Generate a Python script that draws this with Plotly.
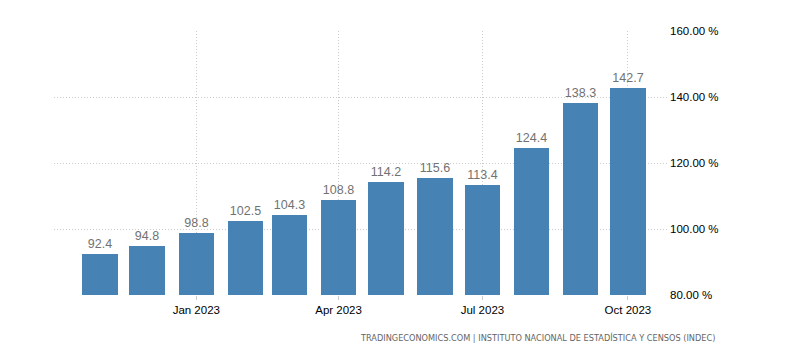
import plotly.graph_objects as go

months = ["2022-11-01", "2022-12-01", "2023-01-01", "2023-02-01", "2023-03-01", "2023-04-01",
          "2023-05-01", "2023-06-01", "2023-07-01", "2023-08-01", "2023-09-01", "2023-10-01"]
values = [92.4, 94.8, 98.8, 102.5, 104.3, 108.8, 114.2, 115.6, 113.4, 124.4, 138.3, 142.7]
x_ticks = ["2023-01-01", "2023-04-01", "2023-07-01", "2023-10-01"]
x_tick_labels = ["Jan 2023", "Apr 2023", "Jul 2023", "Oct 2023"]
y_ticks = [80, 100, 120, 140, 160]
y_tick_labels = ["80.00 %", "100.00 %", "120.00 %", "140.00 %", "160.00 %"]
source = "TRADINGECONOMICS.COM | INSTITUTO NACIONAL DE ESTADÍSTICA Y CENSOS (INDEC)"

DAY_MS = 24 * 3600 * 1000
FONT = "Liberation Sans, Arial, sans-serif"

# page body has an 8px margin, so the figure is drawn 8px smaller and offset
W, H = 804, 352
L, T, R, B = 46, 23, 143, 65

fig = go.Figure(go.Bar(
    x=months, y=values,
    width=[22.5 * DAY_MS] * len(values),
    marker=dict(color="#4682B4", line=dict(width=0)),
    text=[f"{v:.1f}" for v in values],
    textposition="outside",
    textfont=dict(family=FONT, size=12.5, color="#727272"),
    cliponaxis=False,
))

fig.update_layout(
    width=W, height=H,
    margin=dict(l=L, r=R, t=T, b=B, autoexpand=False),
    plot_bgcolor="white", paper_bgcolor="white",
    showlegend=False,
    bargap=0,
    xaxis=dict(
        type="date",
        range=["2022-10-03", "2023-10-27"],
        tickvals=x_ticks, ticktext=x_tick_labels,
        showgrid=True, gridcolor="#cccccc", griddash="1px,2px", gridwidth=1,
        ticks="outside", ticklen=4, tickcolor="#cccccc",
        tickfont=dict(family=FONT, size=11.5, color="#000000"),
        showline=False, zeroline=False, automargin=False,
    ),
    yaxis=dict(
        side="right",
        range=[80, 160],
        tickvals=y_ticks, ticktext=y_tick_labels,
        showgrid=True, gridcolor="#cccccc", griddash="1px,2px", gridwidth=1,
        tickfont=dict(family=FONT, size=11.5, color="#000000"),
        showline=False, zeroline=False, automargin=False,
        ticks="",
    ),
    annotations=[dict(
        text=source, xref="paper", yref="paper",
        x=(717 - 54) / 615, y=-(337 - 295) / 264,
        xanchor="right", yanchor="middle", showarrow=False,
        font=dict(family="DejaVu Sans, sans-serif", size=8.2, color="#666666"),
    )],
)

fig.write_html("out.html")
